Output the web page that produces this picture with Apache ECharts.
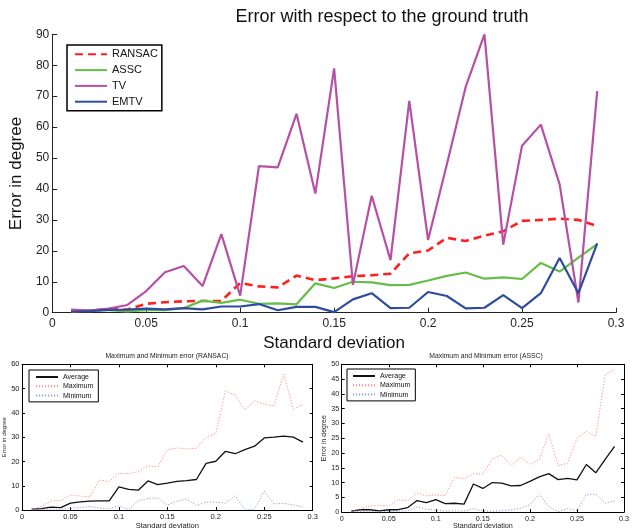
<!DOCTYPE html>
<html>
<head>
<meta charset="utf-8">
<script src="https://cdn.jsdelivr.net/npm/echarts@6/dist/echarts.min.js"></script>
<style>
html,body{margin:0;padding:0;background:#fff;}
#chart{width:632px;height:531px;}
</style>
</head>
<body>
<div id="chart"></div>
<script>
// ---- data ----
const sigma = [0.01,0.02,0.03,0.04,0.05,0.06,0.07,0.08,0.09,0.10,0.11,0.12,0.13,0.14,0.15,0.16,0.17,0.18,0.19,0.20,0.21,0.22,0.23,0.24,0.25,0.26,0.27,0.28,0.29];

const ransacAvg = [0.4,0.6,1.2,1.0,2.9,3.4,3.7,3.8,3.8,9.6,8.5,8.2,12.0,10.5,11.1,11.8,12.1,12.6,19.2,20.1,24.2,23.2,24.9,26.3,29.7,30.0,30.4,30.0,28.0];
const asscAvg = [0.3,0.8,0.8,0.4,0.8,0.8,1.5,3.9,3.2,4.2,2.9,3.0,2.7,9.5,8.0,10.0,9.8,8.9,9.0,10.4,11.9,13.0,11.0,11.4,10.9,16.1,13.3,17.8,22.2];
const tvErr = [1.0,0.7,1.3,2.5,7.0,13.1,15.1,8.6,25.4,5.5,47.4,47.0,64.3,38.5,79.0,9.0,37.8,17.0,68.5,23.5,48.0,73.0,90.0,22.0,54.0,60.8,41.5,3.3,71.6];
const emtvErr = [0.3,0.5,0.9,1.0,1.3,1.1,1.5,1.1,2.0,2.0,2.8,0.8,1.9,1.9,0.2,4.3,6.3,1.5,1.6,6.7,5.4,1.4,1.6,5.7,1.5,6.3,17.7,6.3,22.4];

const ransacMax = [0.3,1.5,3.8,4.0,6.2,5.8,5.4,12.3,11.8,15.2,15.0,15.8,18.2,17.8,24.9,25.6,25.2,25.4,29.9,31.6,49.0,47.4,41.2,45.0,43.6,42.8,56.0,41.6,43.4];
const ransacMin = [0.0,0.2,0.5,0.3,0.8,1.0,1.5,0.8,0.5,1.8,0.2,3.8,4.8,5.0,2.1,3.7,4.5,1.9,3.3,3.3,2.8,5.9,0.1,0.5,7.8,2.5,2.8,2.1,1.3];
const asscMax = [0.3,1.0,2.2,2.3,2.0,4.2,3.8,6.5,5.5,5.8,5.6,11.8,11.2,13.0,12.8,18.0,19.3,15.8,18.5,16.2,17.8,26.5,15.8,16.5,25.0,27.3,25.5,46.5,48.2];
const asscMin = [0.0,0.2,0.3,0.1,0.2,0.3,0.4,1.8,1.0,0.7,0.3,0.4,0.3,1.2,0.3,0.3,0.4,0.8,1.3,2.5,6.0,1.8,0.2,1.2,0.5,6.0,6.0,3.0,3.8];

const mainTitle = 'Error with respect to the ground truth';
const ransacTitle = 'Maximum and Minimum error (RANSAC)';
const asscTitle = 'Maximum and Minimum error (ASSC)';
const xName = 'Standard deviation';
const yName = 'Error in degree';
const mainNames = ['RANSAC','ASSC','TV','EMTV'];
const subNames = ['Average','Maximum','Minimum'];

// ---- build ----
const pairs = arr => sigma.map((x,i) => [x, arr[i]]);
const FONT = '"Liberation Sans", Arial, Helvetica, sans-serif';

function mainX(){
  return {type:'value', gridIndex:0, min:0, max:0.3, interval:0.05, position:'bottom',
    axisLine:{show:true, onZero:false, lineStyle:{color:'#222', width:1}},
    axisTick:{show:true, inside:true, length:5, lineStyle:{color:'#222'}},
    axisLabel:{fontSize:12, color:'#222', margin:5},
    splitLine:{show:false},
    name:xName, nameLocation:'middle', nameGap:17, nameTextStyle:{fontSize:17, color:'#111'}};
}
function mainY(){
  return {type:'value', gridIndex:0, min:0, max:90, interval:10, position:'left',
    axisLine:{show:true, onZero:false, lineStyle:{color:'#222', width:1}},
    axisTick:{show:true, inside:true, length:5, lineStyle:{color:'#222'}},
    axisLabel:{fontSize:12, color:'#222', margin:3},
    splitLine:{show:false},
    name:yName, nameLocation:'middle', nameGap:21, nameRotate:90, nameTextStyle:{fontSize:17, color:'#111'}};
}
function subX(g, pos, labels, fs, nfs){
  return {type:'value', gridIndex:g, min:0, max:0.3, interval:0.05, position:pos,
    axisLine:{show:true, onZero:false, lineStyle:{color:'#000', width:1}},
    axisTick:{show:true, inside:true, length:3, lineStyle:{color:'#000'}},
    axisLabel:{show:labels, fontSize:fs, color:'#222', margin:3},
    splitLine:{show:false},
    name: labels ? xName : '', nameLocation:'middle', nameGap:10, nameTextStyle:{fontSize:nfs, color:'#222'}};
}
function subY(g, pos, labels, max, itv, fs, nfs, gap){
  return {type:'value', gridIndex:g, min:0, max:max, interval:itv, position:pos,
    axisLine:{show:true, onZero:false, lineStyle:{color:'#000', width:1}},
    axisTick:{show:true, inside:true, length:3, lineStyle:{color:'#000'}},
    axisLabel:{show:labels, fontSize:fs, color:'#222', margin:2.5},
    splitLine:{show:false},
    name: labels ? yName : '', nameLocation:'middle', nameGap:gap, nameRotate:90, nameTextStyle:{fontSize:nfs, color:'#222'}};
}

function line(name, data, xi, yi, color, width, type){
  return {type:'line', name:name, data:pairs(data), xAxisIndex:xi, yAxisIndex:yi,
    symbol:'none', silent:true, animation:false,
    lineStyle:{color:color, width:width, type:type}, itemStyle:{color:color}};
}

const RED = '#ff1f1f', GREEN = '#66bd47', MAG = '#b64fa6', BLUE = '#2f4b9f';
const AVG = '#111', MAXC = '#ff8a8a', MINC = '#8e9ce0';
const hiddenSymbol = {opacity:0, borderWidth:0};

const option = {
  animation:false,
  backgroundColor:'#fff',
  textStyle:{fontFamily:FONT},
  title:[
    {text:mainTitle, left:382, top:8.5, textAlign:'center', padding:0,
      textStyle:{fontSize:18, fontWeight:'normal', color:'#111', fontFamily:FONT}},
    {text:ransacTitle, left:167, top:353, textAlign:'center', padding:0,
      textStyle:{fontSize:6.8, fontWeight:'normal', color:'#222', fontFamily:FONT}},
    {text:asscTitle, left:486, top:353, textAlign:'center', padding:0,
      textStyle:{fontSize:6.8, fontWeight:'normal', color:'#222', fontFamily:FONT}}
  ],
  grid:[
    {left:44, right:16, top:34.3, bottom:218.3, containLabel:false},
    {left:22, right:319.3, top:364.3, bottom:17.3, containLabel:false},
    {left:341.7, right:2, top:364.3, bottom:17.3, containLabel:false}
  ],
  xAxis:[
    mainX(),
    subX(1,'bottom',true,7.5,7.6),
    subX(1,'top',false,7.5,7.6),
    subX(2,'bottom',true,7.2,7.2),
    subX(2,'top',false,7.2,7.2)
  ],
  yAxis:[
    mainY(),
    subY(1,'left',true,60,10,7.5,6,10),
    subY(1,'right',false,60,10,7.5,6,10),
    subY(2,'left',true,50,5,7.2,6.9,11),
    subY(2,'right',false,50,5,7.2,6.9,11)
  ],
  legend:[
    {data:mainNames, orient:'vertical', left:67, top:45, padding:[3.3,4,3,7],
      itemWidth:32, itemHeight:12, itemGap:3.8, selectedMode:false,
      itemStyle:hiddenSymbol,
      borderColor:'#000', borderWidth:1.5, backgroundColor:'#fff',
      textStyle:{fontSize:11, lineHeight:12, color:'#111', fontFamily:FONT}},
    {data:subNames, orient:'vertical', left:29, top:370, padding:[3.5,5,2.8,6],
      itemWidth:22, itemHeight:7, itemGap:2.3, selectedMode:false,
      itemStyle:hiddenSymbol,
      borderColor:'#000', borderWidth:1, backgroundColor:'#fff',
      textStyle:{fontSize:7, lineHeight:7, color:'#111', fontFamily:FONT}},
    {data:subNames, orient:'vertical', left:347, top:369, padding:[3.5,5,2.8,5],
      itemWidth:22, itemHeight:7, itemGap:2.3, selectedMode:false,
      itemStyle:hiddenSymbol,
      borderColor:'#000', borderWidth:1, backgroundColor:'#fff',
      textStyle:{fontSize:7, lineHeight:7, color:'#111', fontFamily:FONT}}
  ],
  series:[
    line('RANSAC', ransacAvg, 0, 0, RED, 2.6, [8,5]),
    line('ASSC', asscAvg, 0, 0, GREEN, 2.2, 'solid'),
    line('TV', tvErr, 0, 0, MAG, 2.2, 'solid'),
    line('EMTV', emtvErr, 0, 0, BLUE, 2.2, 'solid'),

    line('Average', ransacAvg, 1, 1, AVG, 1.3, 'solid'),
    line('Maximum', ransacMax, 1, 1, MAXC, 1, [1.2,1.8]),
    line('Minimum', ransacMin, 1, 1, MINC, 1, [1.2,1.8]),

    line('Average', asscAvg, 3, 3, AVG, 1.3, 'solid'),
    line('Maximum', asscMax, 3, 3, MAXC, 1, [1.2,1.8]),
    line('Minimum', asscMin, 3, 3, MINC, 1, [1.2,1.8])
  ]
};

const chart = echarts.init(document.getElementById('chart'), null, {renderer:'canvas'});
chart.setOption(option);
</script>
</body>
</html>
